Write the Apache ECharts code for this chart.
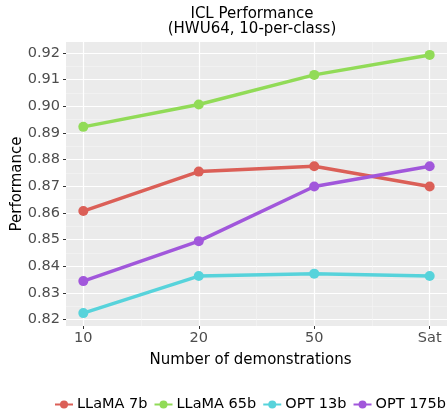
<!DOCTYPE html>
<html>
<head>
<meta charset="utf-8">
<script src="https://cdn.jsdelivr.net/npm/echarts@6/dist/echarts.min.js"></script>
<style>html,body{margin:0;padding:0;background:#fff}#c{width:448px;height:412px}</style>
</head>
<body>
<div id="c"></div>
<script>
const categories = ['10', '20', '50', 'Sat'];
const seriesNames = ['LLaMA 7b', 'LLaMA 65b', 'OPT 13b', 'OPT 175b'];
const llama7b  = [0.8607, 0.8755, 0.8775, 0.8699];
const llama65b = [0.8923, 0.9007, 0.9118, 0.9193];
const opt13b   = [0.8224, 0.8363, 0.8372, 0.8363];
const opt175b  = [0.8344, 0.8494, 0.8699, 0.8775];
const yTicks = [0.82, 0.83, 0.84, 0.85, 0.86, 0.87, 0.88, 0.89, 0.90, 0.91, 0.92];
const yMinor = [0.825, 0.835, 0.845, 0.855, 0.865, 0.875, 0.885, 0.895, 0.905, 0.915];
const colors = ['#DB5F57', '#91DB57', '#57D3DB', '#A157DB'];

const allVals = [llama7b, llama65b, opt13b, opt175b];
const xIdx = categories.map((_, i) => i);
const xMinor = xIdx.slice(0, -1).map(i => i + 0.5);
const xPad = (categories.length - 1) * 0.05;
const flat = allVals.flat();
const yLo = Math.min(...flat), yHi = Math.max(...flat);
const yPad = (yHi - yLo) * 0.05;

const font = 'DejaVu Sans';
const chart = echarts.init(document.getElementById('c'), null, {renderer: 'canvas'});
chart.setOption({
  animation: false,
  textStyle: {fontFamily: font},
  title: {
    text: 'ICL Performance\n(HWU64, 10-per-class)',
    left: 247, top: 2, textAlign: 'center',
    textStyle: {fontFamily: font, fontSize: 15, fontWeight: 'normal', color: '#000', lineHeight: 15}
  },
  legend: {
    bottom: 0, left: 54, padding: 0,
    itemWidth: 18, itemHeight: 10, itemGap: 6,
    textStyle: {fontFamily: font, fontSize: 14.5, color: '#000', padding: [0, 0, 0, -1]},
    data: seriesNames
  },
  grid: {left: 66, right: 1, top: 42, bottom: 86, show: true, backgroundColor: '#EBEBEB', borderWidth: 0,
         containLabel: false, outerBoundsMode: 'none'},
  xAxis: [{
    type: 'value', min: -xPad, max: categories.length - 1 + xPad,
    name: 'Number of demonstrations', nameLocation: 'middle', nameGap: 27, nameMoveOverlap: false,
    nameTextStyle: {fontFamily: font, fontSize: 15, color: '#000', padding: [0, 12, 0, 0]},
    axisLine: {show: false, onZero: false},
    axisTick: {show: true, length: 3, customValues: xIdx, lineStyle: {color: '#333'}},
    axisLabel: {customValues: xIdx, formatter: v => categories[Math.round(v)], fontSize: 14.5, color: '#4D4D4D', margin: 5, fontFamily: font},
    splitLine: {show: true, lineStyle: {color: '#FFFFFF', width: 1.2}}
  }, {
    type: 'value', min: -xPad, max: categories.length - 1 + xPad, show: true,
    axisLine: {show: false, onZero: false}, axisLabel: {show: false},
    axisTick: {show: false, customValues: xMinor},
    splitLine: {show: true, lineStyle: {color: '#F5F5F5', width: 0.6}}
  }],
  yAxis: [{
    type: 'value', min: yLo - yPad, max: yHi + yPad,
    name: 'Performance', nameLocation: 'middle', nameGap: 41, nameMoveOverlap: false,
    nameTextStyle: {fontFamily: font, fontSize: 15, color: '#000'},
    axisLine: {show: false, onZero: false},
    axisTick: {show: true, length: 3, customValues: yTicks, lineStyle: {color: '#333'}},
    axisLabel: {customValues: yTicks, formatter: v => v.toFixed(2), fontSize: 14.5, color: '#4D4D4D', margin: 6, fontFamily: font},
    splitLine: {show: true, lineStyle: {color: '#FFFFFF', width: 1.2}}
  }, {
    type: 'value', min: yLo - yPad, max: yHi + yPad, show: true,
    axisLine: {show: false, onZero: false}, axisLabel: {show: false},
    axisTick: {show: false, customValues: yMinor},
    splitLine: {show: true, lineStyle: {color: '#F5F5F5', width: 0.6}}
  }],
  series: seriesNames.map((name, k) => ({
    name, type: 'line', xAxisIndex: 0, yAxisIndex: 0,
    data: allVals[k].map((v, i) => [xIdx[i], v]),
    symbol: 'circle', symbolSize: 10,
    lineStyle: {width: 3.5, color: colors[k]},
    itemStyle: {color: colors[k]},
    emphasis: {disabled: true}
  }))
});
</script>
</body>
</html>
